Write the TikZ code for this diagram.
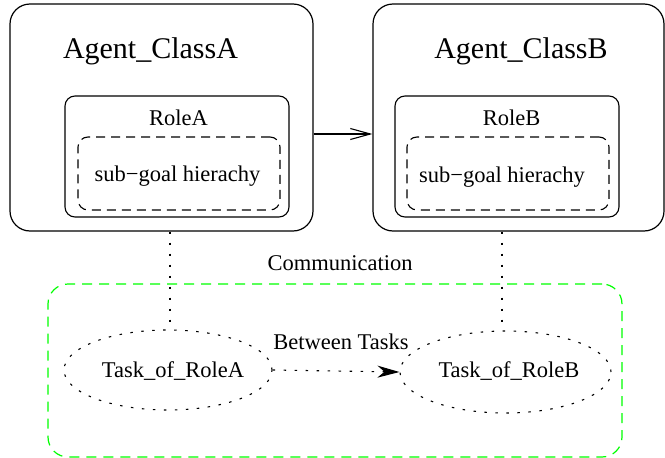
\documentclass[tikz,border=0pt]{standalone}
\usepackage{fontspec}
\setmainfont{Liberation Serif}
\usetikzlibrary{arrows.meta,shapes.geometric}
\begin{document}
\begin{tikzpicture}[x=1pt,y=-1pt,
  agentbox/.style={draw, line width=1.2pt, rounded corners=20pt, inner sep=0pt},
  rolebox/.style={draw, line width=1.1pt, rounded corners=10pt, inner sep=0pt},
  goalbox/.style={draw, line width=1.1pt, rounded corners=10pt, inner sep=0pt, dash pattern=on 9pt off 6pt},
  commbox/.style={draw=green, line width=1.2pt, rounded corners=20pt, inner sep=0pt, dash pattern=on 10pt off 7pt},
  taskell/.style={draw, ellipse, line width=1.1pt, dash pattern=on 2.5pt off 8.5pt, inner sep=0pt,
    minimum width=208pt, minimum height=80pt},
  bigtext/.style={font=\fontsize{30}{36}\selectfont, anchor=base, inner sep=0pt},
  smalltext/.style={font=\fontsize{22.5}{27}\selectfont, anchor=base, inner sep=0pt},
  dotline/.style={line width=1.1pt, dash pattern=on 2.5pt off 8.5pt}
]
\useasboundingbox (0,0) rectangle (665,458);

% agent boxes
\node[agentbox, minimum width=303pt, minimum height=227pt] (agA) at (161.5,117.5) {};
\node[agentbox, minimum width=291pt, minimum height=227pt] (agB) at (518.5,117.5) {};
\node[rolebox, minimum width=224pt, minimum height=121pt] (roleA) at (177,156.5) {};
\node[rolebox, minimum width=224pt, minimum height=121pt] (roleB) at (507,156.5) {};
\node[goalbox, minimum width=202pt, minimum height=73pt] (goalA) at (179,173.5) {};
\node[goalbox, minimum width=202pt, minimum height=73pt] (goalB) at (508,173.5) {};

\node[bigtext] (tagA) at (150.5,58.5) {Agent\_ClassA};
\node[bigtext] (tagB) at (521,58.5) {Agent\_ClassB};
\node[smalltext] (troleA) at (178.5,125.5) {RoleA};
\node[smalltext] (troleB) at (511.5,125) {RoleB};
\node[smalltext] (tgoalA) at (177.5,181.5) {sub−goal hierachy};
\node[smalltext] (tgoalB) at (502,182) {sub−goal hierachy};

% communication box
\node[commbox, minimum width=574pt, minimum height=173pt] (comm) at (335,370.5) {};
\node[smalltext] (tcomm) at (340,270) {Communication};

% tasks
\node[taskell] (taskA) at (168,370) {};
\node[taskell, minimum width=211pt, minimum height=82pt] (taskB) at (505.5,372) {};
\node[smalltext] (ttaskA) at (173,377) {Task\_of\_RoleA};
\node[smalltext] (ttaskB) at (509,377) {Task\_of\_RoleB};
\node[smalltext] (tbetween) at (341,349) {Between Tasks};

% connectors
\coordinate (arrY) at (0,134);
\draw[line width=1.1pt, -{Straight Barb[length=20pt,width=11pt,line width=1.1pt]}]
  (agA.east |- arrY) -- (agB.west |- arrY);

\draw[dotline] (agA.south -| 170,0) -- (taskA.north -| 170,0);
\draw[dotline] (agB.south -| 502,0) -- (taskB.north -| 502,0);

\draw[dotline, -{Stealth[length=22pt,width=12pt,inset=7pt]}] (taskA.east) -- (taskB.west);
\end{tikzpicture}
\end{document}
